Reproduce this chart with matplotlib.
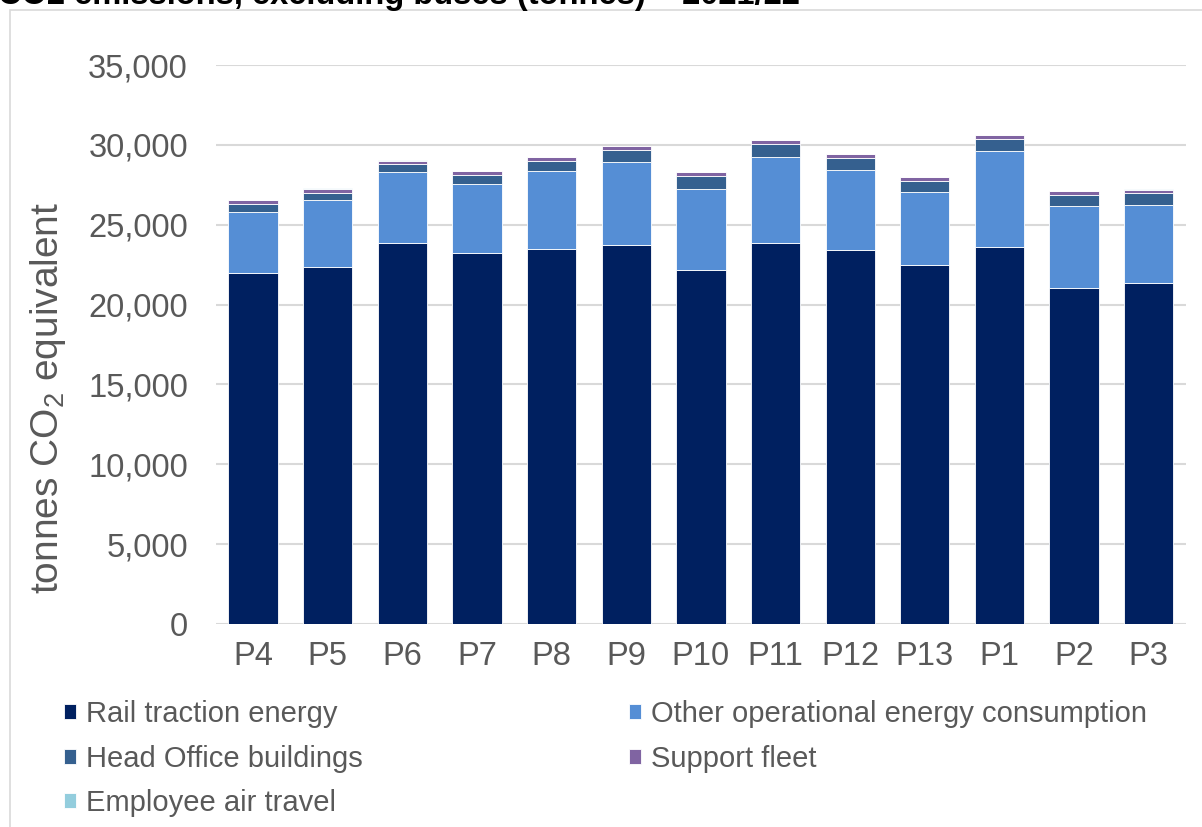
import matplotlib.pyplot as plt
from matplotlib.patches import Rectangle
import numpy as np

plt.rcParams['font.family'] = ['Liberation Sans', 'DejaVu Sans']
plt.rcParams['mathtext.fontset'] = 'custom'
plt.rcParams['mathtext.rm'] = 'Liberation Sans'

periods = ['P4', 'P5', 'P6', 'P7', 'P8', 'P9', 'P10', 'P11', 'P12', 'P13', 'P1', 'P2', 'P3']
rail = [21950, 22350, 23850, 23250, 23450, 23700, 22150, 23850, 23400, 22450, 23600, 21050, 21350]
other = [3850, 4200, 4450, 4300, 4900, 5250, 5100, 5400, 5000, 4600, 6000, 5150, 4900]
head = [480, 460, 480, 560, 640, 730, 800, 830, 770, 690, 770, 650, 730]
support = [270, 250, 230, 230, 230, 250, 250, 230, 230, 230, 230, 230, 210]
air = [15, 15, 15, 15, 15, 15, 15, 15, 15, 15, 15, 15, 15]

series = [
    ('Rail traction energy', rail, '#002060'),
    ('Other operational energy consumption', other, '#558ED5'),
    ('Head Office buildings', head, '#35608F'),
    ('Support fleet', support, '#8064A2'),
    ('Employee air travel', air, '#93CDDD'),
]

grey = '#595959'
fig = plt.figure(figsize=(12.02, 8.27), dpi=100)
ax = fig.add_axes([0.1795, 0.2455, 0.8072, 0.6759])

x = np.arange(len(periods))
bottom = np.zeros(len(periods))
handles = {}
for name, vals, col in series:
    b = ax.bar(x, vals, 0.66, bottom=bottom, color=col, edgecolor='#FFFFFF',
               linewidth=0.6, label=name, zorder=3)
    handles[name] = b
    bottom += np.array(vals)

ax.set_xlim(-0.5, len(periods) - 0.5)
ax.set_ylim(0, 35000)
ax.set_yticks(np.arange(0, 35001, 5000))
ax.set_yticklabels([f'{v:,}' for v in range(0, 35001, 5000)])
ax.set_xticks(x)
ax.set_xticklabels(periods)
ax.grid(axis='y', color='#D9D9D9', linewidth=1.5, zorder=0)
for s in ax.spines.values():
    s.set_visible(False)
ax.tick_params(axis='both', length=0, labelsize=23.5, colors=grey)
ax.tick_params(axis='y', pad=20)
ax.tick_params(axis='x', pad=12)

ax.set_ylabel(r'tonnes CO$_\mathregular{2}$ equivalent', fontsize=28, color=grey)
ax.yaxis.set_label_coords(-0.152, 0.404)

order = ['Rail traction energy', 'Head Office buildings', 'Employee air travel',
         'Other operational energy consumption', 'Support fleet']
leg = fig.legend([handles[n] for n in order], order, ncol=2, frameon=False,
                 loc='upper left', bbox_to_anchor=(0.031, 0.185), fontsize=21,
                 handlelength=0.42, handleheight=0.42, handletextpad=0.35,
                 labelspacing=0.56, columnspacing=9.13, labelcolor=grey)

fig.patches.append(Rectangle((10 / 1202, -0.1), 1.2, 1.1 - 10 / 827,
                             transform=fig.transFigure, fill=False,
                             edgecolor='#D9D9D9', linewidth=1.2))

fig.text(-0.002, 1 - 4 / 827, 'CO2 emissions, excluding buses (tonnes) \u2013 2021/22',
         fontsize=23.5, fontweight='bold', color='black', va='baseline', ha='left')

fig.savefig('out.png', dpi=100)
